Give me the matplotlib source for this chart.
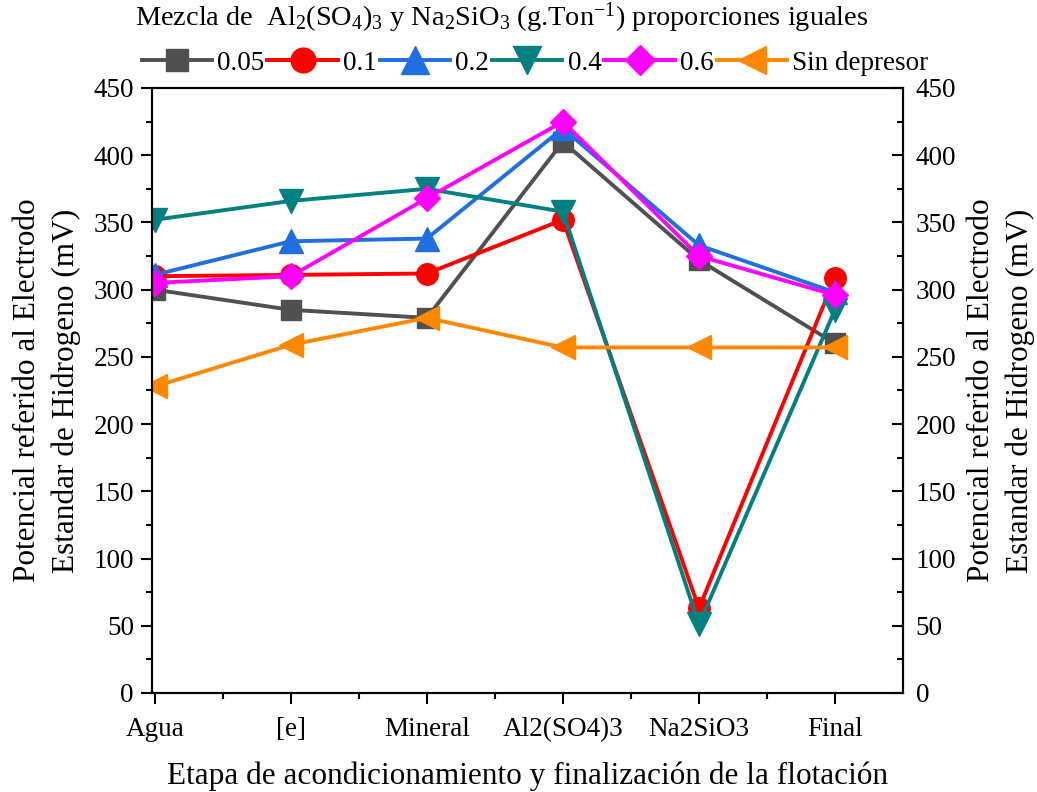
import numpy as np
import matplotlib
matplotlib.use("Agg")
import matplotlib.pyplot as plt
from matplotlib.ticker import MultipleLocator, FixedLocator

plt.rcParams['font.family'] = ['Liberation Serif', 'DejaVu Serif']
plt.rcParams['mathtext.fontset'] = 'custom'
plt.rcParams['mathtext.rm'] = 'Liberation Serif'
plt.rcParams['mathtext.it'] = 'Liberation Serif:italic'
plt.rcParams['mathtext.bf'] = 'Liberation Serif:bold'

# Conditioning stages and measured potentials (mV)
etapas = ["Agua", "[e]", "Mineral", "Al2(SO4)3", "Na2SiO3", "Final"]
dosis_005 = [300, 285, 279, 410, 322, 260]
dosis_01 = [310, 311, 312, 352, 63, 309]
dosis_02 = [311, 336, 338, 420, 333, 298]
dosis_04 = [352, 366, 375, 358, 51, 285]
dosis_06 = [305, 310, 368, 425, 325, 296]
sin_depresor = [228, 259, 279, 257, 257, 257]
etiquetas = ["0.05", "0.1", "0.2", "0.4", "0.6", "Sin depresor"]

series = [dosis_005, dosis_01, dosis_02, dosis_04, dosis_06, sin_depresor]
colores = ["#505050", "#ff0000", "#1f6fe0", "#008080", "#ff00ff", "#ff8800"]
marcadores = ["s", "o", "^", "v", "D", "<"]
tamanos = [14, 15.5, 17.5, 17.5, 13, 17.5]

fig = plt.figure(figsize=(10.37, 7.92), dpi=100)
ax = fig.add_axes([0.1466, 0.125, 0.7242, 0.7639])

x = np.arange(len(etapas))
for vals, lab, col, mk, ms in zip(series, etiquetas, colores, marcadores, tamanos):
    ax.plot(x, vals, color=col, lw=2.8, marker=mk, ms=ms, mfc=col, mec=col,
            mew=1, label=lab)

ax.set_xlim(-0.02, 5.5)
ax.set_ylim(0, 450)
ax.set_xticks(x)
ax.set_xticklabels(etapas)
ax.xaxis.set_minor_locator(FixedLocator(x[:-1] + 0.5))
ax.yaxis.set_major_locator(MultipleLocator(50))
ax.yaxis.set_minor_locator(MultipleLocator(25))
ax.tick_params(which='major', direction='out', length=8, width=1.5,
               labelsize=19.5, pad=5)
ax.tick_params(which='minor', direction='out', length=4, width=1.5)
ax.tick_params(axis='x', which='major', pad=9)
ax.tick_params(top=False, right=False, which='both')

ax2 = ax.twinx()
ax2.set_ylim(0, 450)
ax2.yaxis.set_major_locator(MultipleLocator(50))
ax2.yaxis.set_minor_locator(MultipleLocator(25))
ax2.tick_params(which='major', direction='in', length=8, width=1.5,
                labelsize=19.5, pad=9)
ax2.tick_params(which='minor', direction='in', length=4, width=1.5)

for a in (ax, ax2):
    for s in a.spines.values():
        s.set_linewidth(1.5)

ylab = "Potencial referido al Electrodo\nEstandar de Hidrogeno (mV)"
ax.set_ylabel(ylab, fontsize=22.5, linespacing=1.4, labelpad=9)
ax2.set_ylabel(ylab, fontsize=22.5, linespacing=1.4, labelpad=8)
ax.set_xlabel("Etapa de acondicionamiento y finalización de la flotación",
              fontsize=22.5, labelpad=14)

fig.text(0.484, 0.977,
         r"Mezcla de  Al$_2$(SO$_4$)$_3$ y Na$_2$SiO$_3$ (g.Ton$^{-1}$) proporciones iguales",
         ha='center', va='center', fontsize=20.4)
fig.legend(loc='center', bbox_to_anchor=(0.516, 0.92), ncol=6, frameon=False,
           fontsize=19.5, handlelength=2.6, handletextpad=0.2, columnspacing=0.1,
           markerscale=1.15, borderpad=0, borderaxespad=0)

fig.savefig("out.png", dpi=100)
